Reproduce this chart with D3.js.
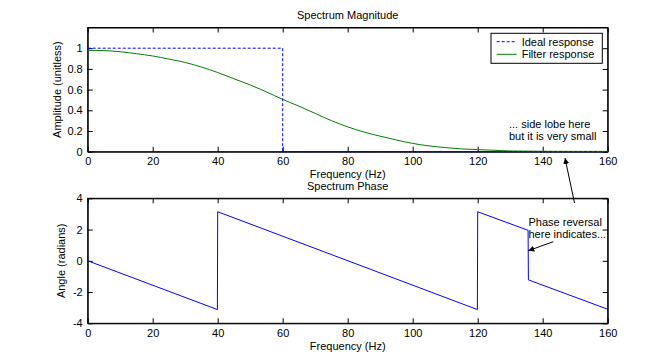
<!DOCTYPE html>
<html>
<head>
<meta charset="utf-8">
<script src="https://cdn.jsdelivr.net/npm/d3@7"></script>
<style>
  body{margin:0;background:#fff;}
  text{font-family:"Liberation Sans",Arial,sans-serif;font-size:11px;fill:#000;}
</style>
</head>
<body>
<svg id="canvas"></svg>
<script>
// data
let xTicks=[0,20,40,60,80,100,120,140,160];
let ampTicks=[0,0.2,0.4,0.6,0.8,1];
let angleTicks=[-4,-2,0,2,4];

let idealFreq=[0,60,60,160];
let idealAmp=[1,1,0,0];

let filterFreq=[0,5,10,15,20,25,30,35,40,45,50,55,60,65,70,75,80,85,90,95,100,105,110,115,120,125,130,140,150,160];
let filterAmp=[0.98,0.977,0.966,0.947,0.925,0.895,0.862,0.818,0.765,0.705,0.645,0.578,0.505,0.44,0.37,0.30,0.24,0.19,0.15,0.113,0.08,0.056,0.04,0.027,0.02,0.014,0.007,0.004,0.003,0.003];

let phaseFreq=[0,39.9,40,119.9,120,135.5,135.6,160];
let phaseAngle=[0,-3.12,3.14,-3.12,3.14,1.95,-1.22,-3.1];

let width=671;
let height=363;
let left=87.7,right=607.7;
let topTop=27.5,topBottom=151.7;
let botTop=198.3,botBottom=323.3;

let canvas=d3.select("#canvas")
canvas.attr('width',width)
canvas.attr('height',height)

let xscale,yAmp,yAngle;

function generateScales(){
    xscale=d3.scaleLinear().domain([0,160]).range([left,right]);
    yAmp=d3.scaleLinear().domain([0,1.2]).range([topBottom,topTop]);
    yAngle=d3.scaleLinear().domain([-4,4]).range([botBottom,botTop]);
}

function drawAxes(yscale,yTicks,y0,y1,fmt){
    canvas.append('rect')
        .attr('x',left).attr('y',y0)
        .attr('width',right-left).attr('height',y1-y0)
        .attr('fill','none').attr('stroke','#000');
    let g=canvas.append('g');
    g.append('g').attr('transform','translate(0,'+y1+')')
        .call(d3.axisBottom(xscale).tickValues(xTicks).tickSize(-5).tickSizeOuter(0).tickPadding(5.5).tickFormat(d3.format('d')));
    g.append('g').attr('transform','translate(0,'+y0+')')
        .call(d3.axisTop(xscale).tickValues(xTicks).tickSize(-5).tickSizeOuter(0).tickFormat(''));
    g.append('g').attr('transform','translate('+left+',0)')
        .call(d3.axisLeft(yscale).tickValues(yTicks).tickSize(-5).tickSizeOuter(0).tickPadding(5).tickFormat(fmt));
    g.append('g').attr('transform','translate('+right+',0)')
        .call(d3.axisRight(yscale).tickValues(yTicks).tickSize(-5).tickSizeOuter(0).tickFormat(''));
    g.selectAll('.domain').attr('stroke','#000');
    g.selectAll('.tick line').attr('stroke','#000');
    g.selectAll('text').attr('font-size',11).attr('font-family','"Liberation Sans",Arial,sans-serif');
}

function drawLine(xs,ys,yscale,color,dash,curve){
    let pts=xs.map((f,i)=>[f,ys[i]]);
    let line=d3.line().x(d=>xscale(d[0])).y(d=>yscale(d[1])).curve(curve||d3.curveLinear);
    canvas.append('path')
        .datum(pts)
        .attr('d',line)
        .attr('fill','none')
        .attr('stroke',color)
        .attr('stroke-width',1)
        .attr('stroke-dasharray',dash||null);
}

function drawLabels(){
    let cx=(left+right)/2;
    canvas.append('text').attr('x',cx).attr('y',19).attr('text-anchor','middle').text('Spectrum Magnitude');
    canvas.append('text').attr('x',cx).attr('y',178.3).attr('text-anchor','middle').text('Frequency (Hz)');
    canvas.append('text').attr('x',cx).attr('y',189.5).attr('text-anchor','middle').text('Spectrum Phase');
    canvas.append('text').attr('x',cx).attr('y',350).attr('text-anchor','middle').text('Frequency (Hz)');
    canvas.append('text').attr('transform','translate(61,'+((topTop+topBottom)/2)+') rotate(-90)')
        .attr('text-anchor','middle').text('Amplitude (unitless)');
    canvas.append('text').attr('transform','translate(65,'+((botTop+botBottom)/2)+') rotate(-90)')
        .attr('text-anchor','middle').text('Angle (radians)');
}

function drawLegend(){
    let lg=canvas.append('g');
    lg.append('rect').attr('x',491).attr('y',33.3).attr('width',111.3).attr('height',30)
        .attr('fill','#fff').attr('stroke','#000');
    lg.append('line').attr('x1',496.7).attr('x2',516.7).attr('y1',41.7).attr('y2',41.7)
        .attr('stroke','#0000ff').attr('stroke-dasharray','3,2');
    lg.append('text').attr('x',521.7).attr('y',45.7).text('Ideal response');
    lg.append('line').attr('x1',496.7).attr('x2',516.7).attr('y1',54.3).attr('y2',54.3)
        .attr('stroke','#008000');
    lg.append('text').attr('x',521.7).attr('y',58.3).text('Filter response');
}

function drawNotes(){
    canvas.append('defs').append('marker')
        .attr('id','head').attr('viewBox','0 0 10 10')
        .attr('refX',10).attr('refY',5)
        .attr('markerWidth',6).attr('markerHeight',6)
        .attr('markerUnits','userSpaceOnUse')
        .attr('orient','auto')
        .append('path').attr('d','M0,0L10,5L0,10z').attr('fill','#000');

    canvas.append('text').attr('x',509).attr('y',128).text('... side lobe here');
    canvas.append('text').attr('x',509).attr('y',140).text('but it is very small');
    canvas.append('line').attr('x1',574.5).attr('y1',203).attr('x2',565).attr('y2',158)
        .attr('stroke','#000').attr('marker-end','url(#head)');

    canvas.append('text').attr('x',528.5).attr('y',225.5).text('Phase reversal');
    canvas.append('text').attr('x',528.5).attr('y',238).text('here indicates...');
    canvas.append('line').attr('x1',553.3).attr('y1',241.7).attr('x2',528.3).attr('y2',250.7)
        .attr('stroke','#000').attr('marker-end','url(#head)');
}

generateScales();
drawAxes(yAmp,ampTicks,topTop,topBottom,d=>String(d));
drawAxes(yAngle,angleTicks,botTop,botBottom,d=>String(d));
drawLine(filterFreq,filterAmp,yAmp,'#008000',null,d3.curveMonotoneX);
drawLine(idealFreq,idealAmp,yAmp,'#0000ff','3,2');
drawLine(phaseFreq,phaseAngle,yAngle,'#0000ff');
drawLabels();
drawLegend();
drawNotes();
</script>
</body>
</html>
